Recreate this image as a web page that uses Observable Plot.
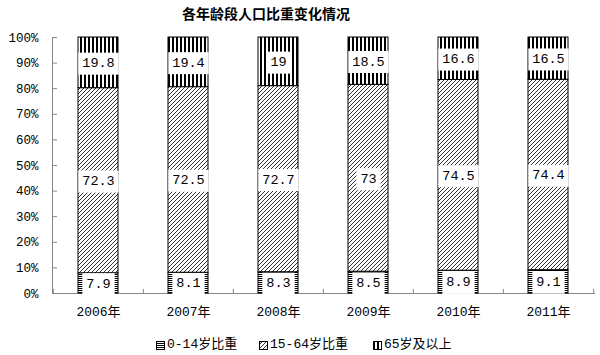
<!DOCTYPE html>
<html>
<head>
<meta charset="utf-8">
<script src="https://cdn.jsdelivr.net/npm/d3@7"></script>
<script src="https://cdn.jsdelivr.net/npm/@observablehq/plot@0.6"></script>
<style>
  html, body { margin: 0; padding: 0; background: #fff; }
  #wrap { position: relative; width: 600px; height: 355px; overflow: hidden; background: #fff;
          font-family: "Liberation Mono", "Noto Sans CJK SC", monospace; color: #000; }
  #title { position: absolute; top: 3px; left: 0; width: 532px; text-align: center;
           font-family: "Noto Sans CJK SC", sans-serif; font-weight: bold; font-size: 14px; line-height: 20px; }
  #chart { position: absolute; top: 0; left: 0; }
  .leg { position: absolute; top: 337px; height: 16px; line-height: 16px; font-size: 13px; white-space: nowrap; display: flex; align-items: center; }
  .leg svg { margin-right: 2px; }
</style>
</head>
<body>
<svg width="0" height="0" style="position:absolute">
  <defs>
    <pattern id="p0" patternUnits="userSpaceOnUse" width="4" height="2">
      <rect width="4" height="2" fill="#fff"/>
      <rect y="0" width="4" height="1" fill="#000"/>
    </pattern>
    <pattern id="p1" patternUnits="userSpaceOnUse" width="4" height="4">
      <rect width="4" height="4" fill="#fff"/>
      <path d="M-1,1 L1,-1 M0,4 L4,0 M3,5 L5,3" stroke="#000" stroke-width="0.8"/>
    </pattern>
    <pattern id="p2" patternUnits="userSpaceOnUse" width="4" height="4">
      <rect width="4" height="4" fill="#fff"/>
      <rect x="0" width="2" height="4" fill="#000"/>
    </pattern>
  </defs>
</svg>
<div id="wrap">
  <div id="title">各年龄段人口比重变化情况</div>
  <div id="chart"></div>
  <div id="legend"></div>
</div>
<script>
const years = ["2006年", "2007年", "2008年", "2009年", "2010年", "2011年"];
const seriesNames = ["0-14岁比重", "15-64岁比重", "65岁及以上"];
const age0to14 = [7.9, 8.1, 8.3, 8.5, 8.9, 9.1];
const age15to64 = [72.3, 72.5, 72.7, 73, 74.5, 74.4];
const age65plus = [19.8, 19.4, 19, 18.5, 16.6, 16.5];
const yTicks = [0, 10, 20, 30, 40, 50, 60, 70, 80, 90, 100];
const patterns = ["url(#p0)", "url(#p1)", "url(#p2)"];

const seriesValues = [age0to14, age15to64, age65plus];
const data = years.flatMap((yr, i) =>
  seriesNames.map((s, k) => ({year: yr, series: s, value: seriesValues[k][i]})));

const W = 600, H = 320, mL = 52, mR = 6, mT = 37, mB = 27;
const step = (W - mL - mR) / years.length;
const gray = "#868686";
const font = '"Liberation Mono", "Noto Sans CJK SC", monospace';

const plot = Plot.plot({
  width: W, height: H,
  marginLeft: mL, marginRight: mR, marginTop: mT, marginBottom: mB,
  style: {fontFamily: font, fontSize: "12px", color: "#000", background: "transparent"},
  x: {domain: years, paddingInner: 0.556, paddingOuter: 0.278, label: null},
  y: {domain: [0, 100], label: null},
  color: {domain: seriesNames, range: patterns},
  marks: [
    Plot.frame({anchor: "left", stroke: gray}),
    Plot.frame({anchor: "bottom", stroke: gray}),
    Plot.ruleX(years, {x: d => d, dx: -step / 2, y1: 0, y2: 1.6, stroke: gray}),
    Plot.ruleX(years.slice(-1), {x: d => d, dx: step / 2, y1: 0, y2: 1.6, stroke: gray}),
    Plot.axisY(yTicks, {tickSize: 0, tickPadding: 14, tickFormat: d => d + "%", fontSize: 12.5}),
    Plot.axisY(yTicks, {tickSize: 5, dx: 5, text: null, stroke: gray}),
    Plot.axisX({tickSize: 0, tickPadding: 13, fontSize: 13}),
    Plot.barY(data, {x: "year", y: "value", fill: "series", stroke: "#000", strokeWidth: 1}),
    Plot.text(data, Plot.stackY({x: "year", y: "value", z: "series", text: d => String(d.value), fill: "#000", fontSize: 13.5}))
  ]
});
document.getElementById("chart").appendChild(plot);

// white label boxes behind the bar labels
const textGroups = plot.querySelectorAll('g[aria-label="text"]');
textGroups.forEach(g => {
  g.querySelectorAll("text").forEach(t => {
    const bb = t.getBBox();
    const r = document.createElementNS("http://www.w3.org/2000/svg", "rect");
    const cy = bb.y + bb.height / 2;
    r.setAttribute("x", bb.x - 4);
    r.setAttribute("y", cy - 11);
    r.setAttribute("width", bb.width + 8);
    r.setAttribute("height", 22);
    r.setAttribute("fill", "#fff");
    const tr = t.getAttribute("transform");
    if (tr) r.setAttribute("transform", tr);
    g.insertBefore(r, t);
  });
});

// legend
const legendPos = [156, 259, 373];
const legend = document.getElementById("legend");
seriesNames.forEach((s, k) => {
  const item = document.createElement("div");
  item.className = "leg";
  item.style.left = legendPos[k] + "px";
  item.innerHTML = `<svg width="9" height="9"><rect x="0.5" y="0.5" width="8" height="8" fill="${patterns[k]}" stroke="#000"/></svg><span>${s}</span>`;
  legend.appendChild(item);
});
</script>
</body>
</html>
